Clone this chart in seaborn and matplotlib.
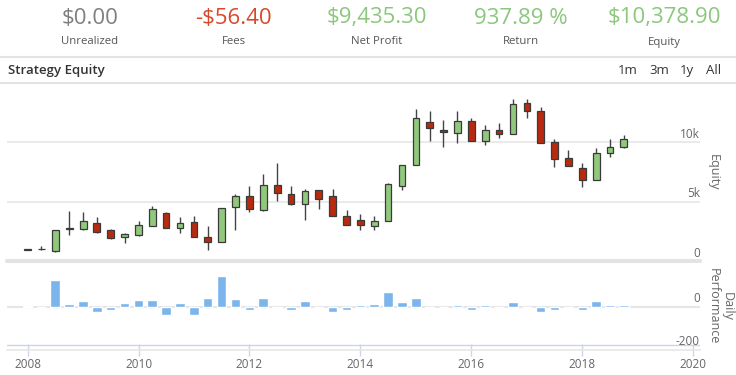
import numpy as np
import pandas as pd
import matplotlib.pyplot as plt
import matplotlib.dates as mdates
from matplotlib.lines import Line2D
import seaborn as sns

# quarterly equity candles (open, high, low, close)
quarters = pd.date_range('2008-01-01', periods=44, freq='QS')
opens = [950, 1000, 850, 2680, 2680, 3180, 2590, 2030, 2220, 2960, 4080, 2780,
         3260, 2050, 1580, 4550, 5510, 4270, 6440, 5680, 4840, 5960, 5510, 3830,
         3460, 2960, 3350, 6330, 8070, 11700, 11080, 10790, 11810, 10120, 11080, 10680,
         13300, 12650, 10030, 8690, 7820, 6860, 9110, 9610]
highs = [1050, 1250, 2650, 4220, 4130, 3690, 2730, 2360, 3400, 4670, 4130, 3690,
         3770, 2930, 4500, 5620, 6360, 7370, 8300, 6360, 6050, 5990, 6070, 4330,
         3940, 3830, 6550, 8080, 12850, 12650, 11920, 12650, 12090, 11500, 11670, 13690,
         13610, 12940, 10240, 9390, 8260, 9560, 10320, 10660]
lows = [920, 900, 800, 2170, 2650, 2400, 1860, 1520, 2140, 2950, 2760, 2400,
        2000, 900, 1560, 2590, 4130, 4250, 5090, 4700, 3490, 4360, 3780, 3050,
        2650, 2650, 3340, 5960, 8060, 10120, 9610, 9980, 10100, 9760, 10370, 10670,
        12060, 9970, 7930, 7980, 6240, 6840, 8770, 9560]
closes = [1000, 1050, 2600, 2800, 3370, 2480, 1940, 2250, 3070, 4390, 2780, 3180,
          2030, 1580, 4470, 5480, 4390, 6410, 5770, 4840, 5880, 5200, 3790, 3070,
          3070, 3350, 6530, 8070, 12090, 11250, 10880, 11810, 10120, 11050, 10680, 13210,
          12650, 9980, 8630, 7990, 6860, 9140, 9610, 10240]
perf = [3, 0, 121, 12, 26, -23, -18, 17, 30, 30, -38, 17,
        -38, 41, 141, 35, -18, 41, -9, -14, 26, -9, -23, -18,
        8, 12, 67, 21, 41, -9, 0, 8, -14, 8, 0, 21,
        0, -23, -14, -9, -14, 26, 8, 8]

stat_values = ['$0.00', '-$56.40', '$9,435.30', '937.89 %', '$10,378.90']
stat_labels = ['Unrealized', 'Fees', 'Net Profit', 'Return', 'Equity']
stat_colors = ['#7f7f7f', '#d9472b', '#8bc77c', '#8bc77c', '#8bc77c']
ranges = ['1m', '3m', '1y', 'All']

sns.set_theme(style='white')
plt.rcParams['font.family'] = ['Open Sans', 'DejaVu Sans']

W, H = 736, 375
fig = plt.figure(figsize=(W / 100, H / 100), dpi=100)

def fx(px):
    return px / W

def fy(py):
    return 1 - py / H

# header
for i, (v, lab, c) in enumerate(zip(stat_values, stat_labels, stat_colors)):
    xc = fx(90 + 143.5 * i)
    fig.text(xc, fy(18), v, ha='center', va='center', fontsize=16, color=c)
    fig.text(xc, fy(42), lab, ha='center', va='center', fontsize=8.2, color='#555555')

for py in (56.5, 83):
    fig.add_artist(Line2D([0, 1], [fy(py), fy(py)], color='#e3e3e3', lw=1.5))

fig.text(fx(8), fy(70.5), 'Strategy Equity', ha='left', va='center',
         fontsize=9.5, fontweight='semibold', color='#333333')
for x, r in zip([628, 659, 687, 714], ranges):
    fig.text(fx(x), fy(70.5), r, ha='center', va='center', fontsize=9.5, color='#333333')

xnum = mdates.date2num(quarters)
xlim = (mdates.date2num(pd.Timestamp('2007-08-19')), mdates.date2num(pd.Timestamp('2020-02-14')))

# top panel: candlesticks
ax1 = fig.add_axes([fx(7), fy(261), fx(693), fy(83) - fy(261)])
df = pd.DataFrame({'x': xnum, 'open': opens, 'high': highs, 'low': lows, 'close': closes})
df['up'] = df['close'] >= df['open']
df['bottom'] = df[['open', 'close']].min(axis=1)
df['height'] = (df['close'] - df['open']).abs().clip(lower=40)

ax1.vlines(df['x'], df['low'], df['high'], color='#444444', lw=1, zorder=2)
ax1.bar(df['x'], df['height'], bottom=df['bottom'], width=45,
        color=np.where(df['up'], '#90c87c', '#b8290e'),
        edgecolor='#3a3a3a', linewidth=0.9, zorder=3)

ax1.set_xlim(xlim)
ax1.set_ylim(0, 15000)
ax1.set_xticks([])
ax1.set_yticks([])
for v in (5000, 10000):
    ax1.axhline(v, color='#e6e6e6', lw=1.2, zorder=0)
ax1.axhline(0, color='#e3e3e3', lw=3, zorder=0, clip_on=False)
for v, t in [(0, '0'), (5000, '5k'), (10000, '10k')]:
    ax1.text(1.0, v + 120, t, transform=ax1.get_yaxis_transform(), ha='right', va='bottom',
             fontsize=8.5, color='#666666')
for s in ax1.spines.values():
    s.set_visible(False)
fig.text(fx(713), fy(172), 'Equity', rotation=-90, ha='center', va='center',
         fontsize=9, color='#666666')

# bottom panel: daily performance
ax2 = fig.add_axes([fx(7), fy(350), fx(693), fy(263) - fy(350)])
sns.barplot(x=xnum, y=perf, native_scale=True, width=0.7, color='#7cb5ec',
            saturation=1, errorbar=None, ax=ax2, zorder=3)
ax2.set_xlim(xlim)
ax2.set_ylim(-200, 200)
ax2.set_xlabel('')
ax2.set_ylabel('')
ax2.set_yticks([])
ax2.axhline(0, color='#e6e6e6', lw=1.5, zorder=0)
ax2.axhline(-177, color='#ccd6eb', lw=1, zorder=1)
for v, t in [(0, '0'), (-200, '-200')]:
    ax2.text(1.0, v + 8, t, transform=ax2.get_yaxis_transform(), ha='right', va='bottom',
             fontsize=8.5, color='#666666')
for s in ax2.spines.values():
    s.set_visible(False)
ax2.spines['bottom'].set_visible(True)
ax2.spines['bottom'].set_color('#e6e6e6')
ax2.spines['bottom'].set_linewidth(1.2)
ax2.xaxis.set_major_locator(mdates.YearLocator(2))
ax2.xaxis.set_major_formatter(mdates.DateFormatter('%Y'))
ax2.tick_params(axis='x', direction='inout', length=9, width=1, color='#ccd6eb',
                labelsize=8.5, labelcolor='#666666', pad=1, bottom=True)
fig.text(fx(720), fy(306), 'Daily\nPerformance', rotation=-90, ha='center', va='center',
         multialignment='center', fontsize=9, color='#666666', linespacing=1.1)

fig.savefig('out.png', dpi=100)
